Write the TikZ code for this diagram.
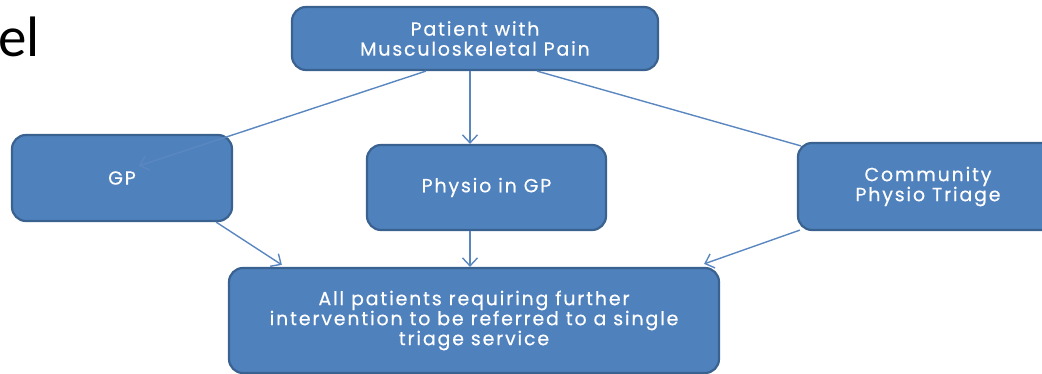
\documentclass[tikz,border=0pt]{standalone}
\usepackage{fontspec}
\setmainfont{Poppins}[LetterSpace=9.5,FakeBold=0.4]
\newfontfamily\titlefont{Carlito}
\usetikzlibrary{arrows.meta,calc}
\definecolor{boxfill}{HTML}{4F81BD}
\definecolor{boxedge}{HTML}{3A6290}
\definecolor{linecol}{HTML}{5A87C0}
\begin{document}
\begin{tikzpicture}[x=1pt,y=-1pt,
  box/.style={draw=boxedge,line width=2.2pt,fill=boxfill,rounded corners=14pt,
    text=white,align=center,inner sep=0pt,font=\fontsize{19}{20}\selectfont},
  conn/.style={draw=linecol,line width=1.4pt},
  arr/.style={conn,-{Straight Barb[length=8pt,width=15pt,line width=1.4pt]}}]
\useasboundingbox (0,0) rectangle (1042,374);
\clip (0,0) rectangle (1042,374);
\node[font=\titlefont\fontsize{57}{57}\selectfont,anchor=base west,inner sep=0pt] (title) at (-2,57) {el};
\node[box,minimum width=366pt,minimum height=63pt] (top) at (475,38.5) {Patient with\\Musculoskeletal Pain};
\node[box,minimum width=220pt,minimum height=86pt] (gp) at (122,178) {GP};
\node[box,minimum width=239pt,minimum height=85pt] (physio) at (486.5,187.5) {Physio in GP};
\node[box,minimum width=260pt,minimum height=87pt] (comm) at (928,186.5) {Community\\Physio Triage};
\node[box,minimum width=490pt,minimum height=105pt] (bottom) at (474,320.5) {All patients requiring further\\intervention to be referred to a single\\triage service};
\draw[arr] ($(top.south west)+(135,0)$) -- ($(gp.north west)+(128,32)$);
\draw[arr] ($(top.south)+(-5,0)$) -- ($(physio.north)+(-16.5,0)$);
\draw[conn] ($(top.south)+(62,0)$) -- ($(comm.north west)+(4,4)$);
\draw[arr] ($(gp.south east)+(-17,0)$) -- ($(bottom.north west)+(54,-2)$);
\draw[arr] ($(physio.south)+(-16.5,0)$) -- ($(bottom.north)+(-4,0)$);
\draw[arr] ($(comm.south west)+(3,-1)$) -- ($(bottom.north east)+(-16,-3)$);
\end{tikzpicture}
\end{document}
